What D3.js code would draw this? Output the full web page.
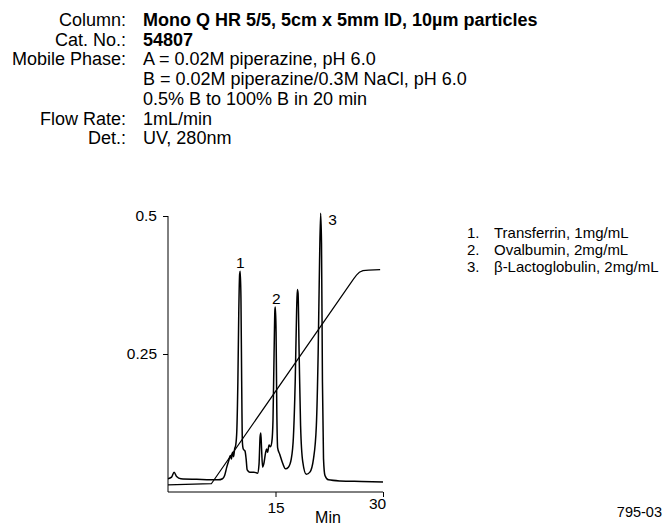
<!DOCTYPE html>
<html>
<head>
<meta charset="utf-8">
<script src="https://cdn.jsdelivr.net/npm/d3@7"></script>
<style>
  body { margin: 0; background: #fff; }
  svg text { font-family: "Liberation Sans", Arial, sans-serif; fill: #000; }
</style>
</head>
<body>
<svg width="663" height="525"></svg>
<script>
"use strict";

// header block
const infoLabels = ["Column:", "Cat. No.:", "Mobile Phase:", "", "", "Flow Rate:", "Det.:"];
const infoValues = [
    "Mono Q HR 5/5, 5cm x 5mm ID, 10µm particles",
    "54807",
    "A = 0.02M piperazine, pH 6.0",
    "B = 0.02M piperazine/0.3M NaCl, pH 6.0",
    "0.5% B to 100% B in 20 min",
    "1mL/min",
    "UV, 280nm"
];
const infoBold = [true, true, false, false, false, false, false];

// legend
const peakNames = ["Transferrin, 1mg/mL", "Ovalbumin, 2mg/mL", "β-Lactoglobulin, 2mg/mL"];
const peakIds = ["1", "2", "3"];
const peakTimes = [10.08, 14.98, 21.3];
const peakHeights = [0.40, 0.335, 0.505];

// axes
const xTicks = [15, 30];
const yTicks = [0.25, 0.5];

// chromatogram (min, AU)
const sigTime = [0, 0.5, 0.85, 1.2, 1.8, 4, 7.0, 7.6, 7.9, 8.2, 8.5, 8.7, 8.85, 9.0, 9.15, 9.3, 9.45,
    9.6, 9.75, 9.88, 10.0, 10.08, 10.18, 10.28, 10.38, 10.5, 10.75, 10.9, 11.05, 11.4, 12.0, 12.5,
    12.7, 12.85, 12.95, 13.05, 13.2, 13.35, 13.6, 13.75, 13.9, 14.1, 14.3, 14.5, 14.65, 14.8, 14.92,
    14.98, 15.08, 15.18, 15.3, 15.6, 16.0, 16.4, 16.8, 17.2, 17.5, 17.75, 17.95, 18.05, 18.15, 18.3,
    18.5, 18.8, 19.3, 19.8, 20.3, 20.7, 20.95, 21.15, 21.3, 21.42, 21.55, 21.7, 21.9, 22.4, 24, 27, 30];
const sigAbs = [0.024, 0.027, 0.036, 0.028, 0.024, 0.023, 0.022, 0.024, 0.03, 0.045, 0.058, 0.066, 0.06,
    0.072, 0.064, 0.078, 0.085, 0.11, 0.2, 0.33, 0.395, 0.40, 0.35, 0.2, 0.09, 0.078, 0.074, 0.06,
    0.04, 0.036, 0.036, 0.034, 0.05, 0.1, 0.107, 0.08, 0.045, 0.05, 0.07, 0.078, 0.072, 0.085, 0.082,
    0.092, 0.13, 0.25, 0.33, 0.335, 0.29, 0.15, 0.08, 0.068, 0.052, 0.042, 0.045, 0.06, 0.1, 0.2,
    0.33, 0.367, 0.36, 0.25, 0.12, 0.055, 0.032, 0.036, 0.06, 0.12, 0.25, 0.42, 0.505, 0.45, 0.2,
    0.06, 0.03, 0.022, 0.02, 0.019, 0.018];

// gradient trace
const gradTime = [0, 6.05, 25.9, 26.3, 26.7, 27.2, 28.0, 29.6];
const gradVal = [0.013, 0.015, 0.386, 0.393, 0.398, 0.401, 0.402, 0.403];

const svg = d3.select("svg");

// header
const info = svg.append("g").attr("font-size", 18);
infoLabels.forEach((lab, i) => {
    const y = 26 + i * 19.7;
    info.append("text").attr("x", 126).attr("y", y)
        .attr("text-anchor", "end").text(lab);
    info.append("text").attr("x", 143).attr("y", y)
        .attr("font-weight", infoBold[i] ? "bold" : "normal")
        .text(infoValues[i]);
});

// plot
const x = d3.scaleLinear().domain([0, 30]).range([168, 383]);
const y = d3.scaleLinear().domain([0, 0.5]).range([492, 216]);

const xAxis = svg.append("g").attr("transform", "translate(0,492)")
    .call(d3.axisBottom(x).tickValues(xTicks).tickSize(5).tickFormat(d3.format("d")));
xAxis.select(".domain").attr("d", `M${x(0)},0H${x(30)}`);
xAxis.selectAll("text").attr("font-size", 15.5).attr("font-family", null).attr("dy", "0.82em");
xAxis.selectAll(".tick").filter(d => d === 30).select("text").attr("dy", "0.58em").attr("x", -6);

const yAxis = svg.append("g").attr("transform", "translate(168,0)")
    .call(d3.axisLeft(y).tickValues(yTicks).tickSize(5).tickFormat(d => d === 0.5 ? "0.5" : "0.25"));
yAxis.select(".domain").attr("d", `M0,${y(0.5)}V${y(0)}`);
yAxis.selectAll("text").attr("font-size", 15.5).attr("font-family", null).attr("x", -11);

svg.append("text").attr("x", 328).attr("y", 523).attr("text-anchor", "middle")
    .attr("font-size", 16).text("Min");

const line = d3.line().x(d => x(d[0])).y(d => y(d[1]));

svg.append("path")
    .datum(gradTime.map((t, i) => [t, gradVal[i]]))
    .attr("fill", "none").attr("stroke", "#000").attr("stroke-width", 1.2)
    .attr("d", line.curve(d3.curveLinear));

svg.append("path")
    .datum(sigTime.map((t, i) => [t, sigAbs[i]]))
    .attr("fill", "none").attr("stroke", "#000").attr("stroke-width", 1.5)
    .attr("d", line.curve(d3.curveMonotoneX));

// peak numbers
const labOff = [[0, -3], [1, -3], [12, 12]];
peakIds.forEach((id, i) => {
    svg.append("text")
        .attr("x", x(peakTimes[i]) + labOff[i][0])
        .attr("y", y(peakHeights[i]) + labOff[i][1])
        .attr("text-anchor", "middle").attr("font-size", 15.5)
        .text(id);
});

// legend
const leg = svg.append("g").attr("font-size", 15);
peakNames.forEach((n, i) => {
    const ly = 238 + i * 17;
    leg.append("text").attr("x", 467).attr("y", ly).text(peakIds[i] + ".");
    leg.append("text").attr("x", 494).attr("y", ly).text(n);
});

svg.append("text").attr("x", 662).attr("y", 517).attr("text-anchor", "end")
    .attr("font-size", 14.5).text("795-03");
</script>
</body>
</html>
